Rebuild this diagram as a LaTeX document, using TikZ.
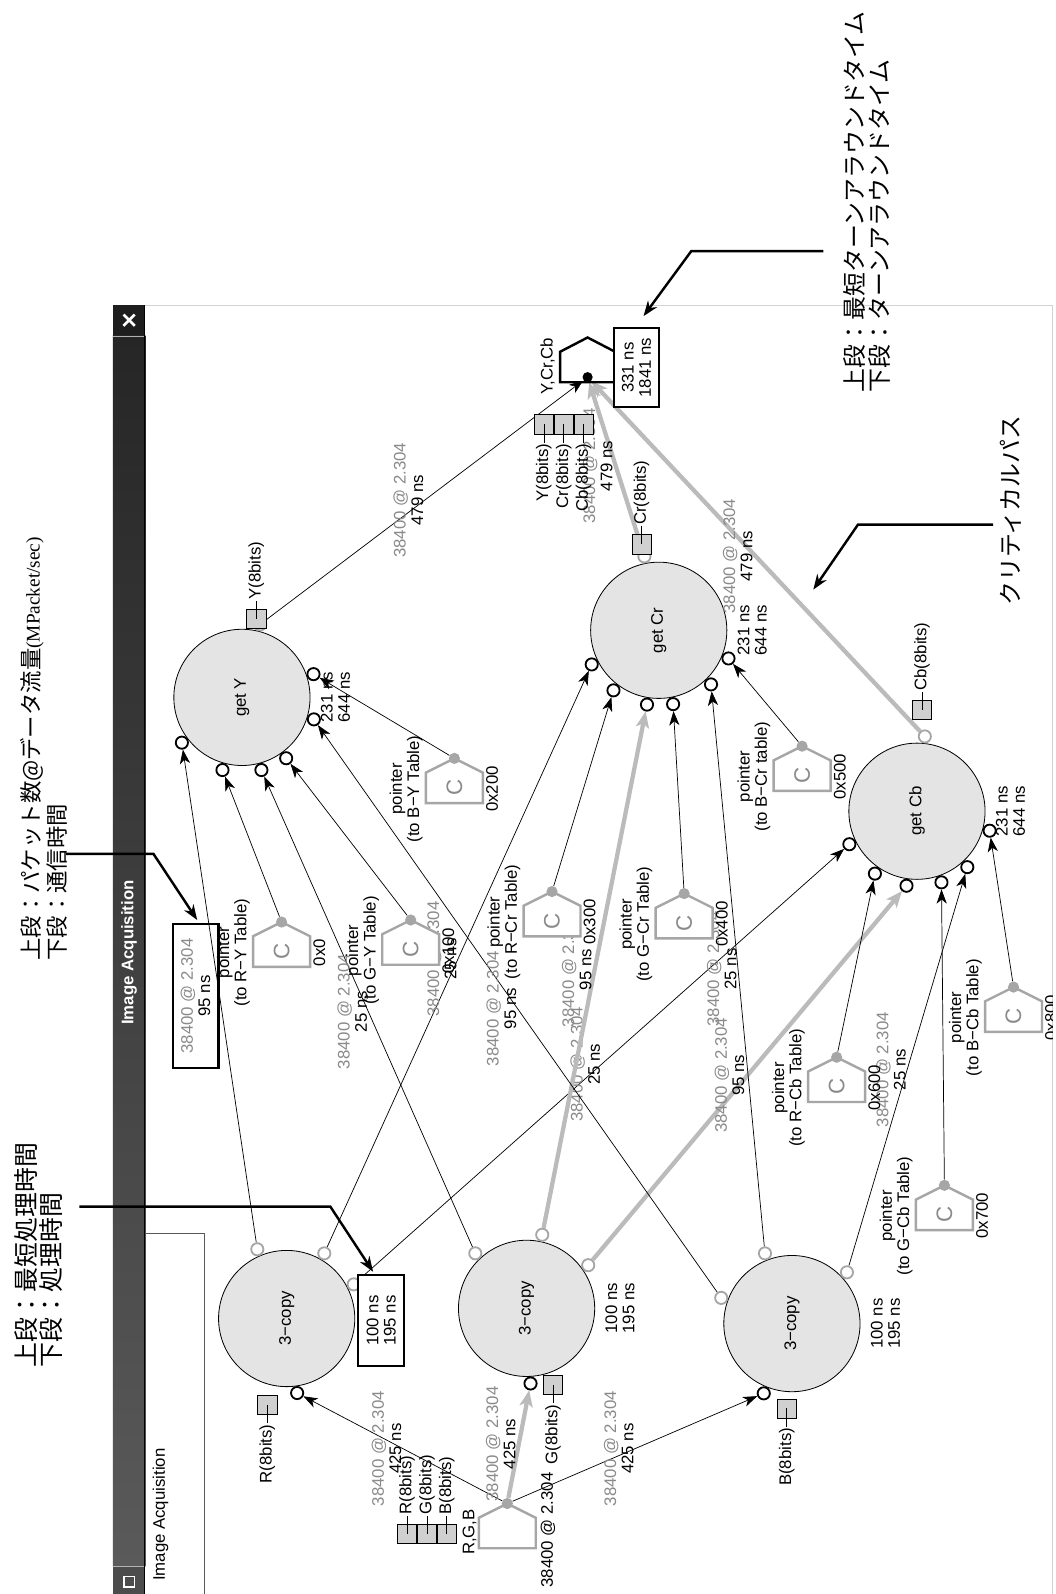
\documentclass[tikz,border=0pt]{standalone}
\usepackage{fontspec}
\usepackage{graphicx}
\setmainfont{Liberation Sans}
\newfontfamily\jpf{Noto Sans CJK JP}
\newfontfamily\tmsf{Liberation Serif}
\usetikzlibrary{arrows.meta,calc}
\pgfdeclarelayer{bg}
\pgfdeclarelayer{mid}
\pgfsetlayers{bg,mid,main}
\definecolor{nodefill}{HTML}{E4E4E4}
\definecolor{portgray}{HTML}{A6A6A6}
\definecolor{lblgray}{HTML}{8A8A8A}
\definecolor{critgray}{HTML}{BBBBBB}
\definecolor{boxfill}{HTML}{D0D0D0}
\definecolor{barA}{HTML}{262626}
\definecolor{barB}{HTML}{5A5A5A}
\newcommand\lbl{\fontsize{16.5}{17}\selectfont}
\newcommand\csz{\fontsize{22}{22}\selectfont}
\newcommand\jpsz{\jpf\fontsize{23.5}{25.5}\selectfont}
\newcommand\jpsm{\jpf\fontsize{22}{25}\selectfont}
\newcommand\two[1]{\textcolor{lblgray}{38400 @ 2.304}\\#1 ns}
\newcommand\mkport[4]{\node[#1] (#2) at ($(#3)!74pt!(#3.#4)$) {};}
\newcommand\konst[5]{%
  \draw[housec] (#2,#3) -- ++(28,14) -- ++(0,30) -- ++(-56,0) -- ++(0,-30) -- cycle;
  \node[vt, text=lblgray, font=\csz] (#1c) at (#2,#3+29) {C};
  \node[cdot] (#1) at (#2,#3) {};
  \node[elab] (#1l) at (#2-30,#3+30) {pointer\\#4};
  \node[nlab] (#1v) at (#2+30,#3+30) {#5};}
\newcommand\pbx[6]{%
  \node[pbox] (#1) at (#2,#3) {};
  \node[vt, anchor=#5] (#1t) at (#2,#4) {#6};
  \draw[line width=0.7pt] (#1.center) -- (#1t);}
\begin{document}
\begin{tikzpicture}[x=1pt,y=-1pt,
  proc/.style={circle, draw=black, line width=0.8pt, fill=nodefill, minimum size=134pt, inner sep=0pt, font=\lbl},
  inport/.style={circle, draw=black, line width=1.8pt, fill=white, minimum size=12pt, inner sep=0pt},
  outport/.style={circle, draw=portgray, line width=1.8pt, fill=white, minimum size=12pt, inner sep=0pt},
  cdot/.style={circle, fill=portgray, minimum size=11pt, inner sep=0pt},
  sdot/.style={circle, fill=black, minimum size=10pt, inner sep=0pt},
  link/.style={draw=black, line width=0.7pt, -{Stealth[length=14pt,width=10pt,inset=4pt]}},
  crit/.style={draw=critgray, line width=4.2pt, -{Stealth[length=16pt,width=13pt,inset=4pt]}},
  housec/.style={draw=portgray, line width=2.4pt, fill=white},
  housek/.style={draw=black, line width=2.4pt, fill=white},
  txt/.style={font=\lbl, inner sep=1pt},
  vt/.style={txt, rotate=90},
  elab/.style={vt, anchor=south, align=center},
  nlab/.style={vt, anchor=north, align=center},
  tbox/.style={vt, draw=black, line width=2.2pt, align=center, fill=white},
  pbox/.style={rectangle, draw=black, line width=0.6pt, fill=boxfill, minimum size=19pt, inner sep=0pt},
  leader/.style={line width=2.4pt, -{Stealth[length=15pt,width=11pt]}},
  ann/.style={rotate=90, font=\jpsz, inner sep=0pt, align=left},
]
\useasboundingbox (0,0) rectangle (1038,1568);

\begin{pgfonlayer}{bg}
  \fill[white] (0,0) rectangle (1038,1568);
  \shade[top color=barA, bottom color=barB] (111,330) rectangle (143,1541);
  \fill[barA!80!black] (111,300) rectangle (143,330);
  \fill[barB!85!black] (111,1541) rectangle (143,1568);
  \draw[gray!60, line width=0.8pt] (111,330.5) -- (143,330.5) (111,1541) -- (143,1541);
  \draw[black, line width=1.5pt] (142.3,300) -- (142.3,1568);
  \draw[white, line width=2.6pt] (121.5,309.5) -- (132.5,320.5) (121.5,320.5) -- (132.5,309.5);
  \draw[white, line width=1.2pt] (122,1551) rectangle (132,1561);
  \draw[gray!35, line width=1pt] (143,300.5) -- (1035.5,300.5) -- (1035.5,1568);
  \draw[gray!70!black, line width=0.8pt] (143,1213) -- (201,1213) -- (201,1568);
  \node[proc] (gY) at (238,686) {\rotatebox{90}{get Y}};
  \node[proc] (gCr) at (648,620) {\rotatebox{90}{get Cr}};
  \node[proc] (gCb) at (902,798) {\rotatebox{90}{get Cb}};
  \node[proc] (cR) at (282,1297) {\rotatebox{90}{3−copy}};
  \node[proc] (cG) at (518,1287) {\rotatebox{90}{3−copy}};
  \node[proc] (cB) at (779,1302) {\rotatebox{90}{3−copy}};
\end{pgfonlayer}

\node[vt, text=white, font={\lbl\bfseries}] (title) at (127,937) {Image Acquisition};
\node[vt] (panel) at (158,1490) {Image Acquisition};

% ports
\mkport{outport}{gYo}{gY}{76}
\mkport{inport}{gYiR}{gY}{217}
\mkport{inport}{gYiRY}{gY}{255}
\mkport{inport}{gYiG}{gY}{285}
\mkport{inport}{gYiGY}{gY}{306}
\mkport{inport}{gYiB}{gY}{343}
\mkport{inport}{gYiBY}{gY}{18}
\mkport{outport}{gCro}{gCr}{101}
\mkport{inport}{gCriR}{gCr}{207}
\mkport{inport}{gCriRC}{gCr}{233}
\mkport{inport}{gCriG}{gCr}{261}
\mkport{inport}{gCriGC}{gCr}{281}
\mkport{inport}{gCriB}{gCr}{314}
\mkport{inport}{gCriBC}{gCr}{338}
\mkport{outport}{gCbo}{gCb}{84}
\mkport{inport}{gCbiR}{gCb}{206}
\mkport{inport}{gCbiRC}{gCb}{236}
\mkport{inport}{gCbiG}{gCb}{262}
\mkport{inport}{gCbiGC}{gCb}{289}
\mkport{inport}{gCbiB}{gCb}{312}
\mkport{inport}{gCbiBC}{gCb}{345}
\mkport{inport}{cRin}{cR}{278}
\mkport{outport}{cRo1}{cR}{113}
\mkport{outport}{cRo2}{cR}{60}
\mkport{outport}{cRo3}{cR}{27}
\mkport{inport}{cGin}{cG}{273}
\mkport{outport}{cGo1}{cG}{133}
\mkport{outport}{cGo2}{cG}{78}
\mkport{outport}{cGo3}{cG}{35}
\mkport{inport}{cBin}{cB}{248}
\mkport{outport}{cBo1}{cB}{160}
\mkport{outport}{cBo2}{cB}{111}
\mkport{outport}{cBo3}{cB}{43}

% node time labels
\node[nlab] (gYt) at ($(gY.east)+(9,0)$) {231 ns\\644 ns};
\node[nlab] (gCrt) at ($(gCr.east)+(9,0)$) {231 ns\\644 ns};
\node[nlab] (gCbt) at ($(gCb.east)+(9,0)$) {231 ns\\644 ns};
\node[nlab] (cGt) at ($(cG.east)+(9,0)$) {100 ns\\195 ns};
\node[nlab] (cBt) at ($(cB.east)+(9,0)$) {100 ns\\195 ns};
\node[tbox, minimum width=90pt, minimum height=45pt] (cRt) at (375,1299) {100 ns\\195 ns};

% source and sink
\draw[housec] (499,1479) -- ++(28,14) -- ++(0,30) -- ++(-56,0) -- ++(0,-30) -- cycle;
\node[cdot] (src) at (499,1479) {};
\node[vt, anchor=south] (srcl) at (470,1507) {R,G,B};
\node[txt, rotate=90] (srcx) at (539,1505) {38400 @ 2.304};
\draw[housek] (578,332) -- ++(27,14) -- ++(0,30) -- ++(-54,0) -- ++(0,-30) -- cycle;
\node[sdot] (snk) at (578,371) {};
\node[vt, anchor=south] (snkl) at (547,360) {Y,Cr,Cb};
\node[tbox, minimum width=77pt, minimum height=44pt] (snkt) at (626,361.5) {331 ns\\1841 ns};

% port boxes
\pbx{bY}{252}{609}{591}{west}{Y(8bits)}
\pbx{bCr}{631}{535.5}{517.5}{west}{Cr(8bits)}
\pbx{bCb}{907}{698.5}{680.5}{west}{Cb(8bits)}
\pbx{bR}{263}{1382}{1400}{east}{R(8bits)}
\pbx{bG}{544}{1362.5}{1380.5}{east}{G(8bits)}
\pbx{bB}{774}{1385.5}{1403.5}{east}{B(8bits)}
\pbx{sR}{400.5}{1509}{1491}{west}{R(8bits)}
\pbx{sG}{420}{1509}{1491}{west}{G(8bits)}
\pbx{sB}{439.5}{1509}{1491}{west}{B(8bits)}
\pbx{yY}{535}{417.5}{435.5}{east}{Y(8bits)}
\pbx{yCr}{554.5}{417.5}{435.5}{east}{Cr(8bits)}
\pbx{yCb}{574}{417.5}{435.5}{east}{Cb(8bits)}

% constants
\begin{scope}
\clip (143,301) rectangle (1035,1568);
\konst{kRY}{277}{907}{(to R−Y Table)}{0x0}
\konst{kGY}{404}{905}{(to G−Y Table)}{0x100}
\konst{kBY}{447}{746}{(to B−Y Table)}{0x200}
\konst{kRCr}{543}{877}{(to R−Cr Table)}{0x300}
\konst{kGCr}{673}{879}{(to G−Cr Table)}{0x400}
\konst{kBCr}{789}{734}{(to B−Cr table)}{0x500}
\konst{kRCb}{823}{1040}{(to R−Cb Table)}{0x600}
\konst{kGCb}{929}{1166}{(to G−Cb Table)}{0x700}
\konst{kBCb}{997}{971}{(to B−Cb Table)}{0x800}
\end{scope}

% connectors
\begin{pgfonlayer}{mid}
  \draw[link] (src) -- node[elab]{\two{425}} (cRin);
  \draw[crit] (src) -- node[elab]{\two{425}} (cGin);
  \draw[link] (src) -- node[elab]{\two{425}} (cBin);
  \draw[link] (cRo1) -- node[elab, draw=black, line width=2.2pt, minimum width=141pt, minimum height=45pt]{\two{95}} (gYiR);
  \draw[link] (cRo2) -- node[elab]{\two{25}} (gCriR);
  \draw[link] (cRo3) -- node[elab]{\two{25}} (gCbiR);
  \draw[link] (cGo1) -- node[elab]{\two{25}} (gYiG);
  \draw[crit] (cGo2) -- node[elab]{\two{95}} (gCriG);
  \draw[crit] (cGo3) -- node[elab]{\two{95}} (gCbiG);
  \draw[link] (cBo1) -- node[elab]{\two{95}} (gYiB);
  \draw[link] (cBo2) -- node[elab]{\two{25}} (gCriB);
  \draw[link] (cBo3) -- node[elab]{\two{25}} (gCbiB);
  \draw[link] (gYo) -- node[elab]{\two{479}} (snk);
  \draw[crit] (gCro) -- node[elab]{\two{479}} (snk);
  \draw[crit] (gCbo) -- node[elab]{\two{479}} (snk);
  \draw[link] (kRY) -- (gYiRY);
  \draw[link] (kGY) -- (gYiGY);
  \draw[link] (kBY) -- (gYiBY);
  \draw[link] (kRCr) -- (gCriRC);
  \draw[link] (kGCr) -- (gCriGC);
  \draw[link] (kBCr) -- (gCriBC);
  \draw[link] (kRCb) -- (gCbiRC);
  \draw[link] (kGCb) -- (gCbiGC);
  \draw[link] (kBCb) -- (gCbiBC);
\end{pgfonlayer}

% annotations
\node[ann, anchor=north west, font=\jpf\fontsize{24.5}{25}\selectfont] (A1) at (14,1345) {上段：最短処理時間\\下段：処理時間};
\node[ann, anchor=north west, font=\jpsm] (A2) at (20,945) {上段：パケット数@データ流量{\tmsf\fontsize{19}{25}\selectfont (MPacket/sec)}\\下段：通信時間};
\node[ann, anchor=north west] (A3) at (829,386) {上段：最短ターンアラウンドタイム\\下段：ターンアラウンドタイム};
\node[ann, anchor=west] (A4) at (994,596) {クリティカルパス};
\coordinate (L1a) at (78,1187); \coordinate (L1b) at (325,1187); \coordinate (L1c) at (367,1251);
\coordinate (L2a) at (65,840); \coordinate (L2b) at (151,840); \coordinate (L2c) at (194,905);
\coordinate (L3a) at (810,247); \coordinate (L3b) at (680,247); \coordinate (L3c) at (633,311);
\coordinate (L4a) at (977,516); \coordinate (L4b) at (844,516); \coordinate (L4c) at (800,580);
\draw[leader] (L1a) -- (L1b) -- (L1c);
\draw[leader] (L2a) -- (L2b) -- (L2c);
\draw[leader] (L3a) -- (L3b) -- (L3c);
\draw[leader] (L4a) -- (L4b) -- (L4c);
\end{tikzpicture}
\end{document}
